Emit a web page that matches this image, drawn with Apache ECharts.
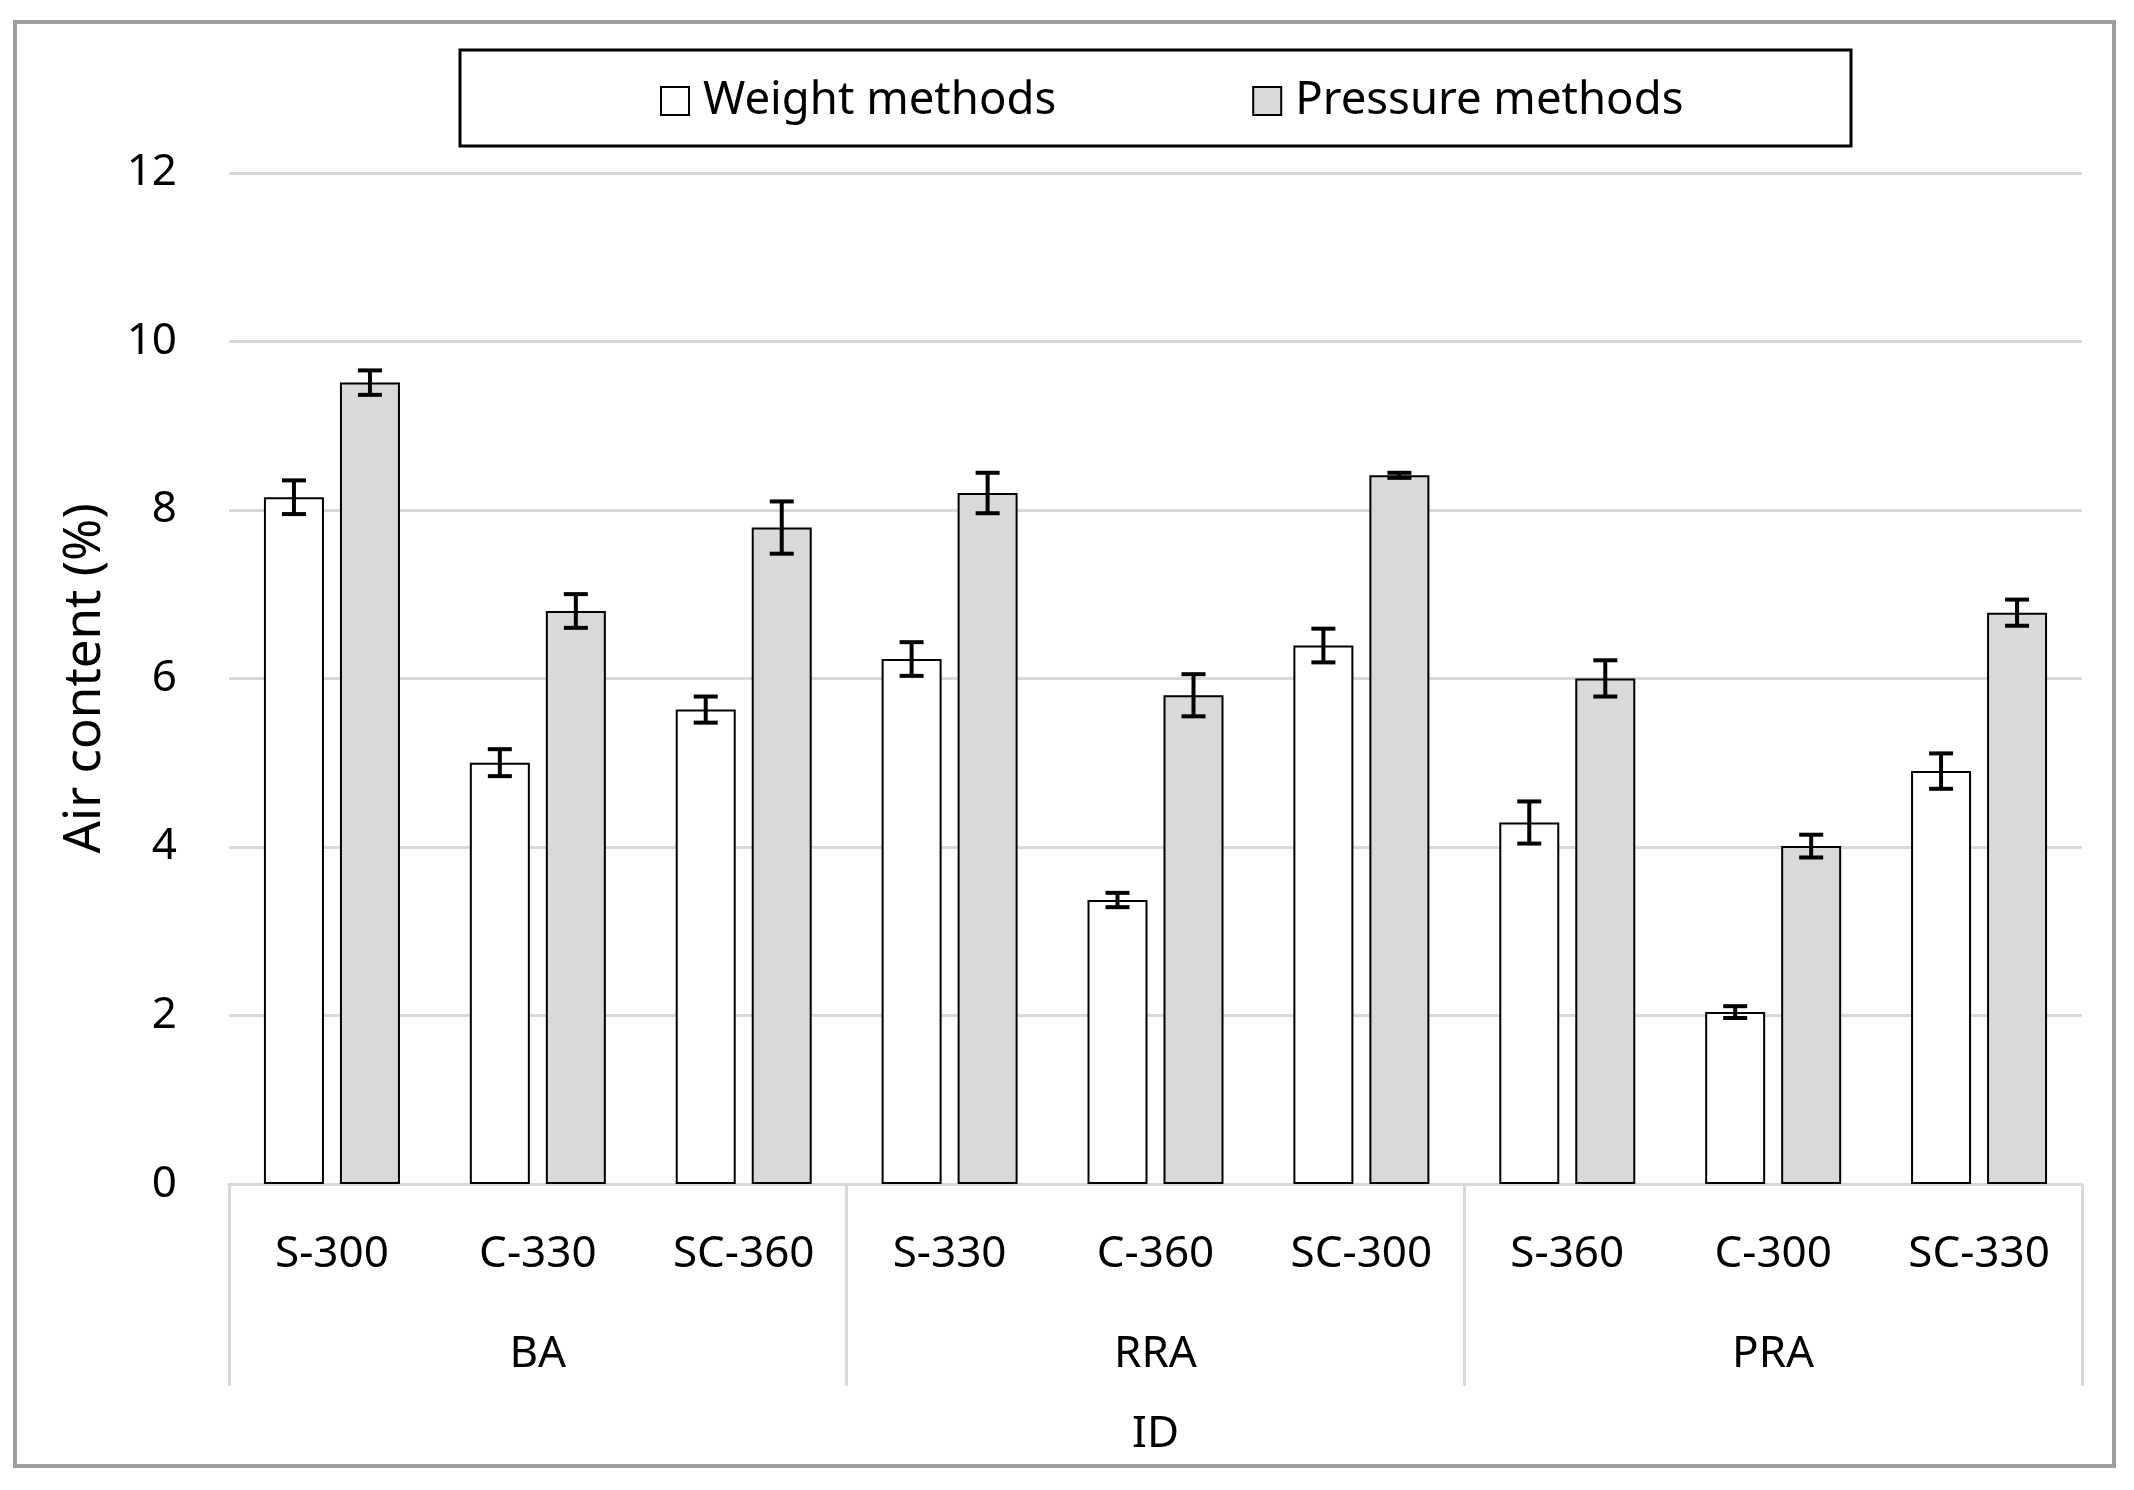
<!DOCTYPE html>
<html><head><meta charset="utf-8">
<script src="https://cdn.jsdelivr.net/npm/echarts@6/dist/echarts.min.js"></script>
<style>html,body{margin:0;padding:0;background:#fff}#c{width:2134px;height:1490px}</style>
</head><body><div id="c"></div>
<script>
const categories = ['S-300','C-330','SC-360','S-330','C-360','SC-300','S-360','C-300','SC-330'];
const groups = ['BA','RRA','PRA'];
const weightValues = [8.15, 5.0, 5.63, 6.23, 3.37, 6.39, 4.29, 2.04, 4.9];
const weightErrors = [0.2, 0.16, 0.155, 0.2, 0.085, 0.2, 0.25, 0.07, 0.21];
const pressureValues = [9.51, 6.8, 7.79, 8.2, 5.8, 8.41, 6.0, 4.01, 6.78];
const pressureErrors = [0.145, 0.2, 0.31, 0.24, 0.25, 0.03, 0.215, 0.135, 0.155];
const yMin = 0, yMax = 12, yStep = 2;

const FONT = 'Noto Sans';
const BAR_W = 60, GAP_PX = 16;

function errRender(sign) {
  return function (params, api) {
    const i = api.value(0), v = api.value(1), e = api.value(2);
    const top = api.coord([i, v + e]);
    const bot = api.coord([i, v - e]);
    const x = top[0] + sign * (BAR_W + GAP_PX) / 2;
    const hw = 12;
    const st = { stroke: '#000', lineWidth: 4 };
    return { type: 'group', children: [
      { type: 'line', shape: { x1: x, y1: top[1], x2: x, y2: bot[1] }, style: st },
      { type: 'line', shape: { x1: x - hw, y1: top[1], x2: x + hw, y2: top[1] }, style: st },
      { type: 'line', shape: { x1: x - hw, y1: bot[1], x2: x + hw, y2: bot[1] }, style: st }
    ]};
  };
}

const chart = echarts.init(document.getElementById('c'), null, { renderer: 'canvas' });
chart.setOption({
  backgroundColor: '#fff',
  animation: false,
  textStyle: { fontFamily: FONT },
  graphic: [
    { type: 'rect', shape: { x: 15, y: 22, width: 2099, height: 1444 }, style: { fill: 'none', stroke: '#9e9e9e', lineWidth: 4 }, z: -1 },
    { type: 'rect', shape: { x: 460, y: 50, width: 1391, height: 96 }, style: { fill: 'none', stroke: '#000', lineWidth: 3 }, z: -1 }
  ],
  legend: {
    data: ['Weight methods', 'Pressure methods'],
    left: 660, top: 74, padding: 0,
    icon: 'rect', itemWidth: 28, itemHeight: 28, itemGap: 196,
    textStyle: { fontFamily: FONT, fontSize: 45.5, color: '#000', lineHeight: 54, padding: [0, 0, 0, 9] }
  },
  grid: { left: 229, right: 52, top: 172.8, bottom: 306, containLabel: false },
  xAxis: [
    {
      type: 'category', data: categories, position: 'bottom',
      axisLine: { show: true, lineStyle: { color: '#d9d9d9', width: 3 } },
      axisTick: { show: false },
      axisLabel: { interval: 0, fontFamily: FONT, fontSize: 44, color: '#000', lineHeight: 50, margin: 45 },
      splitLine: { show: false }
    },
    {
      type: 'category', data: groups, position: 'bottom',
      axisLine: { show: true, lineStyle: { color: '#d9d9d9', width: 3 } },
      axisTick: { show: true, interval: 0, length: 202, lineStyle: { color: '#d9d9d9', width: 3 } },
      axisLabel: { interval: 0, fontFamily: FONT, fontSize: 44, color: '#000', lineHeight: 50, margin: 145 },
      name: 'ID', nameLocation: 'middle', nameGap: 225,
      nameTextStyle: { fontFamily: FONT, fontSize: 44, color: '#000', lineHeight: 50 }
    }
  ],
  yAxis: {
    type: 'value', min: yMin, max: yMax, interval: yStep,
    axisLine: { show: false }, axisTick: { show: false },
    axisLabel: { fontFamily: FONT, fontSize: 44, color: '#000', margin: 52 },
    splitLine: { lineStyle: { color: '#d9d9d9', width: 3 } },
    name: 'Air content (%)', nameLocation: 'middle', nameRotate: 90, nameGap: 118,
    nameTextStyle: { fontFamily: FONT, fontSize: 51, color: '#000' }
  },
  series: [
    {
      name: 'Weight methods', type: 'bar', xAxisIndex: 0, data: weightValues,
      barWidth: BAR_W, barGap: (GAP_PX / BAR_W * 100) + '%',
      itemStyle: { color: '#ffffff', borderColor: '#000', borderWidth: 2 }
    },
    {
      name: 'Pressure methods', type: 'bar', xAxisIndex: 0, data: pressureValues,
      barWidth: BAR_W,
      itemStyle: { color: '#d9d9d9', borderColor: '#000', borderWidth: 2 }
    },
    {
      type: 'custom', xAxisIndex: 0, renderItem: errRender(-1), z: 5,
      encode: { x: 0, y: 1 },
      data: weightValues.map((v, i) => [i, v, weightErrors[i]])
    },
    {
      type: 'custom', xAxisIndex: 0, renderItem: errRender(1), z: 5,
      encode: { x: 0, y: 1 },
      data: pressureValues.map((v, i) => [i, v, pressureErrors[i]])
    }
  ]
});
</script>
</body></html>
